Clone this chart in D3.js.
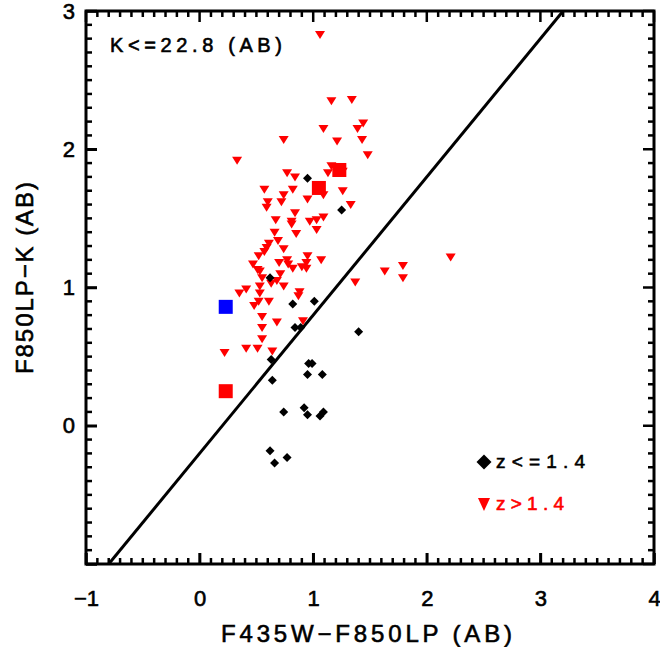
<!DOCTYPE html>
<html>
<head>
<meta charset="utf-8">
<script src="https://cdn.jsdelivr.net/npm/d3@7"></script>
<style>
  body { margin: 0; background: #fff; }
</style>
</head>
<body>
<div id="chart"></div>
<script>
// z > 1.4 sources (red triangles)
let redX = [1.16,1.34,1.44,1.09,1.39,0.74,1.21,1.43,1.48,0.33,
  0.77,0.84,1.13,1.16,1.26,0.57,0.82,1.26,0.74,0.95,
  1.09,0.60,0.59,0.72,1.33,0.84,0.67,0.81,0.81,0.97,
  1.03,1.09,1.03,0.85,0.66,0.61,0.69,0.59,0.74,0.52,
  0.57,0.95,1.07,0.47,0.51,0.53,0.70,0.77,0.78,0.82,
  0.90,0.94,0.94,0.71,0.55,0.68,0.63,0.53,0.74,0.35,
  0.41,0.53,0.88,0.87,0.52,0.48,0.61,0.55,0.68,0.91,
  0.55,0.55,0.41,0.51,0.64,0.22,1.63,1.79,1.79,1.37,
  2.21,1.06];
let redY = [2.35,2.36,2.19,2.15,2.15,2.07,2.06,2.07,1.96,1.92,
  1.83,1.80,1.83,1.88,1.84,1.71,1.71,1.70,1.67,1.64,
  1.67,1.62,1.58,1.62,1.60,1.54,1.49,1.48,1.46,1.48,
  1.49,1.51,1.42,1.39,1.40,1.32,1.34,1.29,1.28,1.23,
  1.26,1.23,1.20,1.17,1.13,1.12,1.18,1.20,1.17,1.14,
  1.15,1.18,1.14,1.10,1.07,1.05,1.03,1.01,1.01,0.96,
  0.99,0.96,0.97,0.94,0.90,0.87,0.90,0.79,0.75,0.76,
  0.71,0.63,0.56,0.56,0.54,0.53,1.12,1.16,1.07,1.04,
  1.22,2.83];

// z <= 1.4 sources (black diamonds)
let blackX = [0.95,1.25,0.62,0.82,1.01,0.84,0.89,1.40,0.63,0.96,0.99,
  0.95,1.08,0.64,0.74,0.92,0.95,1.06,1.09,0.62,0.77,0.66];
let blackY = [1.79,1.56,1.07,0.88,0.90,0.71,0.71,0.68,0.48,0.45,0.45,
  0.37,0.37,0.33,0.10,0.13,0.08,0.07,0.10,-0.18,-0.23,-0.27];

// big squares
let redSqX = [1.23,1.05,0.23];
let redSqY = [1.85,1.72,0.25];
let blueSqX = [0.23];
let blueSqY = [0.86];

// dividing line end points
let lineX = [-0.8, 3.2];
let lineY = [-1, 3];

let xTicks = [-1,0,1,2,3,4];
let yTicks = [-1,0,1,2,3];

const L = 86, R = 654, T = 11, B = 564;
const FONT = "Liberation Sans, Arial, sans-serif";

let svg = d3.select("#chart").append("svg").attr("width", 660).attr("height", 647);

let x = d3.scaleLinear().domain([-1,4]).range([L,R]);
let y = d3.scaleLinear().domain([-1,3]).range([B,T]);

let minorX = d3.range(-1, 4.001, 0.1).map(v => +v.toFixed(1));
let minorY = d3.range(-1, 3.001, 0.1).map(v => +v.toFixed(1));

let fmt = d => d < 0 ? "\u2212" + Math.abs(d) : String(d);

function drawAxis(axis, tx, ty){
  let g = svg.append("g")
    .attr("transform", "translate(" + tx + "," + ty + ")")
    .call(axis);
  g.select(".domain").remove();
  g.selectAll(".tick line").style("stroke", "#000").style("stroke-width", "2.5px");
  return g;
}

svg.append("rect")
  .attr("x", L).attr("y", T)
  .attr("width", R - L).attr("height", B - T)
  .attr("fill", "none").attr("stroke", "#000").attr("stroke-width", 3);

let xAx = drawAxis(d3.axisBottom(x).tickValues(xTicks).tickSize(-11).tickPadding(26).tickFormat(fmt), 0, B);
let yAx = drawAxis(d3.axisLeft(y).tickValues(yTicks).tickSize(-11).tickPadding(11)
  .tickFormat(d => d < 0 ? "" : fmt(d)), L, 0);

[xAx, yAx].forEach(g => g.selectAll(".tick text")
  .attr("font-size", 22).attr("font-family", FONT)
  .attr("fill", "#000").attr("stroke", "#000").attr("stroke-width", 0.6));

// tick marks on all four sides, pointing inward
let ticks = svg.append("g").attr("stroke", "#000").attr("stroke-width", 2.5);
let isMajor = v => Math.abs(v - Math.round(v)) < 1e-6;
ticks.selectAll(".xb").data(minorX).enter().append("line")
  .attr("x1", d => x(d)).attr("x2", d => x(d))
  .attr("y1", B).attr("y2", d => B - (isMajor(d) ? 11 : 6));
ticks.selectAll(".xt").data(minorX).enter().append("line")
  .attr("x1", d => x(d)).attr("x2", d => x(d))
  .attr("y1", T).attr("y2", d => T + (isMajor(d) ? 11 : 6));
ticks.selectAll(".yl").data(minorY).enter().append("line")
  .attr("y1", d => y(d)).attr("y2", d => y(d))
  .attr("x1", L).attr("x2", d => L + (isMajor(d) ? 11 : 6));
ticks.selectAll(".yr").data(minorY).enter().append("line")
  .attr("y1", d => y(d)).attr("y2", d => y(d))
  .attr("x1", R).attr("x2", d => R - (isMajor(d) ? 11 : 6));

svg.append("clipPath").attr("id", "plotclip")
  .append("rect").attr("x", L).attr("y", T).attr("width", R - L).attr("height", B - T);

let plot = svg.append("g").attr("clip-path", "url(#plotclip)");

plot.append("line")
  .attr("x1", x(lineX[0])).attr("y1", y(lineY[0]))
  .attr("x2", x(lineX[1])).attr("y2", y(lineY[1]))
  .attr("stroke", "#000").attr("stroke-width", 3);

let triPath = "M-5,-3.5L5,-3.5L0,4.5Z";
let diaPath = "M0,-4.5L4.5,0L0,4.5L-4.5,0Z";

plot.selectAll(".tri")
  .data(redX)
  .enter().append("path")
  .attr("class", "tri")
  .attr("d", triPath)
  .attr("fill", "#ff0000")
  .attr("transform", (d, i) => "translate(" + x(d) + "," + y(redY[i]) + ")");

plot.selectAll(".dia")
  .data(blackX)
  .enter().append("path")
  .attr("class", "dia")
  .attr("d", diaPath)
  .attr("fill", "#000")
  .attr("transform", (d, i) => "translate(" + x(d) + "," + y(blackY[i]) + ")");

plot.selectAll(".rsq")
  .data(redSqX)
  .enter().append("rect")
  .attr("class", "rsq")
  .attr("x", d => x(d) - 7)
  .attr("y", (d, i) => y(redSqY[i]) - 7)
  .attr("width", 14).attr("height", 14)
  .attr("fill", "#ff0000");

plot.selectAll(".bsq")
  .data(blueSqX)
  .enter().append("rect")
  .attr("class", "bsq")
  .attr("x", d => x(d) - 7)
  .attr("y", (d, i) => y(blueSqY[i]) - 7)
  .attr("width", 14).attr("height", 14)
  .attr("fill", "#0000ff");

// annotation
svg.append("text")
  .text("K<=22.8 (AB)")
  .attr("x", 110).attr("y", 52)
  .attr("font-family", FONT).attr("font-size", "20px")
  .attr("stroke", "#000").attr("stroke-width", 0.6)
  .attr("textLength", 172).attr("lengthAdjust", "spacing");

// legend
svg.append("path")
  .attr("d", "M0,-7.5L7.5,0L0,7.5L-7.5,0Z")
  .attr("transform", "translate(484,462)")
  .attr("fill", "#000");
svg.append("text")
  .text("z<=1.4")
  .attr("x", 496).attr("y", 468)
  .attr("font-family", FONT).attr("font-size", "19px")
  .attr("stroke", "#000").attr("stroke-width", 0.6)
  .attr("textLength", 89).attr("lengthAdjust", "spacing");
svg.append("path")
  .attr("d", "M-6,-6L6,-6L0,7Z")
  .attr("transform", "translate(484,504)")
  .attr("fill", "#ff0000");
svg.append("text")
  .text("z>1.4")
  .attr("x", 496).attr("y", 510)
  .attr("font-family", FONT).attr("font-size", "19px")
  .attr("fill", "#ff0000")
  .attr("stroke", "#ff0000").attr("stroke-width", 0.6)
  .attr("textLength", 68).attr("lengthAdjust", "spacing");

// axis titles
svg.append("text")
  .text("F435W\u2212F850LP (AB)")
  .attr("x", 221).attr("y", 642)
  .attr("font-family", FONT).attr("font-size", "24px")
  .attr("stroke", "#000").attr("stroke-width", 0.6)
  .attr("textLength", 291).attr("lengthAdjust", "spacing");

svg.append("text")
  .text("F850LP\u2212K (AB)")
  .attr("transform", "translate(33,374) rotate(-90)")
  .attr("font-family", FONT).attr("font-size", "24px")
  .attr("stroke", "#000").attr("stroke-width", 0.6)
  .attr("textLength", 192).attr("lengthAdjust", "spacing");
</script>
</body>
</html>
